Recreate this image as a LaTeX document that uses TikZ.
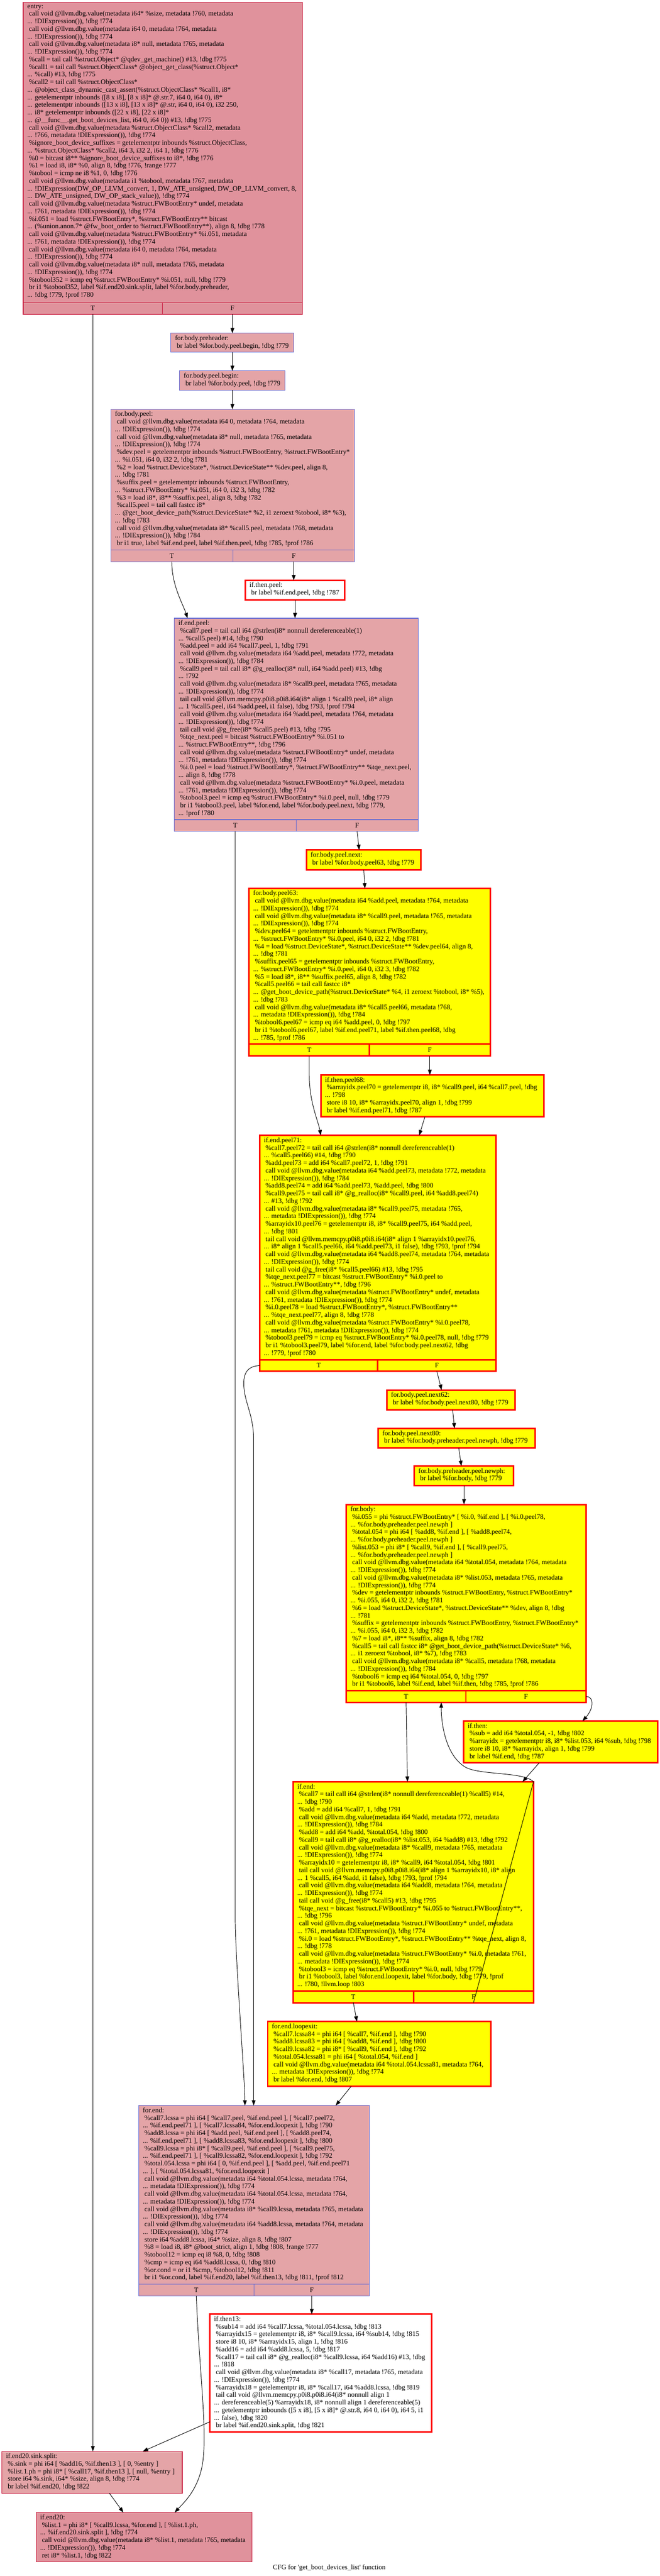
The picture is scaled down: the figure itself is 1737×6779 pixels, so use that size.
\documentclass[tikz,border=0pt]{standalone}
\usepackage{fontspec}
\setmainfont{Liberation Serif}[Ligatures=TeXOff]
\usetikzlibrary{arrows.meta,calc}
\definecolor{pdark}{RGB}{224,146,156}
\definecolor{plight}{RGB}{228,164,167}
\definecolor{crim}{RGB}{200,24,60}
\definecolor{blu}{RGB}{96,104,212}
\definecolor{yel}{RGB}{255,255,0}
\newcommand\codefont{\fontsize{18.2}{20}\selectfont}
\newcommand\Ls{\hspace*{4.5pt}}
\newcommand\mkblock[6]{\node[#2,minimum width=#5pt,minimum height=#6pt,anchor=north west] (#1) at (#3,#4) {};}
\newcommand\mktext[2]{\node[txt] (#1txt) at ([xshift=11pt,yshift=-5.5pt]#1.north west) {#2};}
\newcommand\mkcells[4]{\node[#2,cell,anchor=south west,minimum width=#3pt] (#1T) at (#1.south west) {T};\node[#2,cell,anchor=south east,minimum width=#4pt] (#1F) at (#1.south east) {F};}
\tikzset{
  base/.style={rectangle,inner sep=0pt,outer sep=0pt},
  pinkdark/.style={base,draw=crim,fill=pdark,line width=1.5pt},
  pinklight/.style={base,draw=blu,fill=plight,line width=1.5pt},
  pinklightc/.style={base,draw=crim,fill=plight,line width=1.5pt},
  hot/.style={base,draw=red,fill=yel,line width=4pt},
  hotw/.style={base,draw=red,fill=white,line width=4pt},
  txt/.style={inner sep=0pt,outer sep=0pt,anchor=north west,align=left,font=\codefont,execute at begin node=\strut},
  cell/.style={font=\codefont,minimum height=31pt},
  conn/.style={draw=black,line width=1.3pt,-{Triangle[length=14pt,width=10pt]}},
}
\begin{document}
\begin{tikzpicture}[x=1pt,y=-1pt]
\useasboundingbox (0,0) rectangle (1737,6779);
% ---------- entry
\mkblock{entry}{pinkdark}{61}{6}{735}{821}
\mktext{entry}{entry:\\
\Ls call void @llvm.dbg.value(metadata i64* \%size, metadata !760, metadata\\
... !DIExpression()), !dbg !774\\
\Ls call void @llvm.dbg.value(metadata i64 0, metadata !764, metadata\\
... !DIExpression()), !dbg !774\\
\Ls call void @llvm.dbg.value(metadata i8* null, metadata !765, metadata\\
... !DIExpression()), !dbg !774\\
\Ls \%call = tail call \%struct.Object* @qdev\_get\_machine() \#13, !dbg !775\\
\Ls \%call1 = tail call \%struct.ObjectClass* @object\_get\_class(\%struct.Object*\\
... \%call) \#13, !dbg !775\\
\Ls \%call2 = tail call \%struct.ObjectClass*\\
... @object\_class\_dynamic\_cast\_assert(\%struct.ObjectClass* \%call1, i8*\\
... getelementptr inbounds ([8 x i8], [8 x i8]* @.str.7, i64 0, i64 0), i8*\\
... getelementptr inbounds ([13 x i8], [13 x i8]* @.str, i64 0, i64 0), i32 250,\\
... i8* getelementptr inbounds ([22 x i8], [22 x i8]*\\
... @\_\_func\_\_.get\_boot\_devices\_list, i64 0, i64 0)) \#13, !dbg !775\\
\Ls call void @llvm.dbg.value(metadata \%struct.ObjectClass* \%call2, metadata\\
... !766, metadata !DIExpression()), !dbg !774\\
\Ls \%ignore\_boot\_device\_suffixes = getelementptr inbounds \%struct.ObjectClass,\\
... \%struct.ObjectClass* \%call2, i64 3, i32 2, i64 1, !dbg !776\\
\Ls \%0 = bitcast i8** \%ignore\_boot\_device\_suffixes to i8*, !dbg !776\\
\Ls \%1 = load i8, i8* \%0, align 8, !dbg !776, !range !777\\
\Ls \%tobool = icmp ne i8 \%1, 0, !dbg !776\\
\Ls call void @llvm.dbg.value(metadata i1 \%tobool, metadata !767, metadata\\
... !DIExpression(DW\_OP\_LLVM\_convert, 1, DW\_ATE\_unsigned, DW\_OP\_LLVM\_convert, 8,\\
... DW\_ATE\_unsigned, DW\_OP\_stack\_value)), !dbg !774\\
\Ls call void @llvm.dbg.value(metadata \%struct.FWBootEntry* undef, metadata\\
... !761, metadata !DIExpression()), !dbg !774\\
\Ls \%i.051 = load \%struct.FWBootEntry*, \%struct.FWBootEntry** bitcast\\
... (\%union.anon.7* @fw\_boot\_order to \%struct.FWBootEntry**), align 8, !dbg !778\\
\Ls call void @llvm.dbg.value(metadata \%struct.FWBootEntry* \%i.051, metadata\\
... !761, metadata !DIExpression()), !dbg !774\\
\Ls call void @llvm.dbg.value(metadata i64 0, metadata !764, metadata\\
... !DIExpression()), !dbg !774\\
\Ls call void @llvm.dbg.value(metadata i8* null, metadata !765, metadata\\
... !DIExpression()), !dbg !774\\
\Ls \%tobool352 = icmp eq \%struct.FWBootEntry* \%i.051, null, !dbg !779\\
\Ls br i1 \%tobool352, label \%if.end20.sink.split, label \%for.body.preheader,\\
... !dbg !779, !prof !780}
\mkcells{entry}{pinkdark}{367}{368}
% ---------- preheader chain
\mkblock{preheader}{pinklight}{450}{877}{324}{50}
\mktext{preheader}{for.body.preheader:\\
\Ls br label \%for.body.peel.begin, !dbg !779}
\mkblock{peelbegin}{pinklight}{473}{976}{278}{51}
\mktext{peelbegin}{for.body.peel.begin:\\
\Ls br label \%for.body.peel, !dbg !779}
% ---------- for.body.peel
\mkblock{bodypeel}{pinklight}{292}{1077}{642}{401}
\mktext{bodypeel}{for.body.peel:\\
\Ls call void @llvm.dbg.value(metadata i64 0, metadata !764, metadata\\
... !DIExpression()), !dbg !774\\
\Ls call void @llvm.dbg.value(metadata i8* null, metadata !765, metadata\\
... !DIExpression()), !dbg !774\\
\Ls \%dev.peel = getelementptr inbounds \%struct.FWBootEntry, \%struct.FWBootEntry*\\
... \%i.051, i64 0, i32 2, !dbg !781\\
\Ls \%2 = load \%struct.DeviceState*, \%struct.DeviceState** \%dev.peel, align 8,\\
... !dbg !781\\
\Ls \%suffix.peel = getelementptr inbounds \%struct.FWBootEntry,\\
... \%struct.FWBootEntry* \%i.051, i64 0, i32 3, !dbg !782\\
\Ls \%3 = load i8*, i8** \%suffix.peel, align 8, !dbg !782\\
\Ls \%call5.peel = tail call fastcc i8*\\
... @get\_boot\_device\_path(\%struct.DeviceState* \%2, i1 zeroext \%tobool, i8* \%3),\\
... !dbg !783\\
\Ls call void @llvm.dbg.value(metadata i8* \%call5.peel, metadata !768, metadata\\
... !DIExpression()), !dbg !784\\
\Ls br i1 true, label \%if.end.peel, label \%if.then.peel, !dbg !785, !prof !786}
\mkcells{bodypeel}{pinklight}{321}{321}
% ---------- if.then.peel
\mkblock{thenpeel}{hotw}{646}{1527}{262}{52}
\mktext{thenpeel}{if.then.peel:\\
\Ls br label \%if.end.peel, !dbg !787}
% ---------- if.end.peel
\mkblock{endpeel}{pinklight}{459}{1627}{642}{561}
\mktext{endpeel}{if.end.peel:\\
\Ls \%call7.peel = tail call i64 @strlen(i8* nonnull dereferenceable(1)\\
... \%call5.peel) \#14, !dbg !790\\
\Ls \%add.peel = add i64 \%call7.peel, 1, !dbg !791\\
\Ls call void @llvm.dbg.value(metadata i64 \%add.peel, metadata !772, metadata\\
... !DIExpression()), !dbg !784\\
\Ls \%call9.peel = tail call i8* @g\_realloc(i8* null, i64 \%add.peel) \#13, !dbg\\
... !792\\
\Ls call void @llvm.dbg.value(metadata i8* \%call9.peel, metadata !765, metadata\\
... !DIExpression()), !dbg !774\\
\Ls tail call void @llvm.memcpy.p0i8.p0i8.i64(i8* align 1 \%call9.peel, i8* align\\
... 1 \%call5.peel, i64 \%add.peel, i1 false), !dbg !793, !prof !794\\
\Ls call void @llvm.dbg.value(metadata i64 \%add.peel, metadata !764, metadata\\
... !DIExpression()), !dbg !774\\
\Ls tail call void @g\_free(i8* \%call5.peel) \#13, !dbg !795\\
\Ls \%tqe\_next.peel = bitcast \%struct.FWBootEntry* \%i.051 to\\
... \%struct.FWBootEntry**, !dbg !796\\
\Ls call void @llvm.dbg.value(metadata \%struct.FWBootEntry* undef, metadata\\
... !761, metadata !DIExpression()), !dbg !774\\
\Ls \%i.0.peel = load \%struct.FWBootEntry*, \%struct.FWBootEntry** \%tqe\_next.peel,\\
... align 8, !dbg !778\\
\Ls call void @llvm.dbg.value(metadata \%struct.FWBootEntry* \%i.0.peel, metadata\\
... !761, metadata !DIExpression()), !dbg !774\\
\Ls \%tobool3.peel = icmp eq \%struct.FWBootEntry* \%i.0.peel, null, !dbg !779\\
\Ls br i1 \%tobool3.peel, label \%for.end, label \%for.body.peel.next, !dbg !779,\\
... !prof !780}
\mkcells{endpeel}{pinklight}{321}{321}
% ---------- for.body.peel.next
\mkblock{peelnext}{hot}{807}{2237}{301}{52}
\mktext{peelnext}{for.body.peel.next:\\
\Ls br label \%for.body.peel63, !dbg !779}
% ---------- for.body.peel63
\mkblock{peel63}{hot}{656}{2338}{635}{441}
\mktext{peel63}{for.body.peel63:\\
\Ls call void @llvm.dbg.value(metadata i64 \%add.peel, metadata !764, metadata\\
... !DIExpression()), !dbg !774\\
\Ls call void @llvm.dbg.value(metadata i8* \%call9.peel, metadata !765, metadata\\
... !DIExpression()), !dbg !774\\
\Ls \%dev.peel64 = getelementptr inbounds \%struct.FWBootEntry,\\
... \%struct.FWBootEntry* \%i.0.peel, i64 0, i32 2, !dbg !781\\
\Ls \%4 = load \%struct.DeviceState*, \%struct.DeviceState** \%dev.peel64, align 8,\\
... !dbg !781\\
\Ls \%suffix.peel65 = getelementptr inbounds \%struct.FWBootEntry,\\
... \%struct.FWBootEntry* \%i.0.peel, i64 0, i32 3, !dbg !782\\
\Ls \%5 = load i8*, i8** \%suffix.peel65, align 8, !dbg !782\\
\Ls \%call5.peel66 = tail call fastcc i8*\\
... @get\_boot\_device\_path(\%struct.DeviceState* \%4, i1 zeroext \%tobool, i8* \%5),\\
... !dbg !783\\
\Ls call void @llvm.dbg.value(metadata i8* \%call5.peel66, metadata !768,\\
... metadata !DIExpression()), !dbg !784\\
\Ls \%tobool6.peel67 = icmp eq i64 \%add.peel, 0, !dbg !797\\
\Ls br i1 \%tobool6.peel67, label \%if.end.peel71, label \%if.then.peel68, !dbg\\
... !785, !prof !786}
\mkcells{peel63}{hot}{317}{318}
% ---------- if.then.peel68
\mkblock{thenpeel68}{hot}{845}{2829}{588}{110}
\mktext{thenpeel68}{if.then.peel68:\\
\Ls \%arrayidx.peel70 = getelementptr i8, i8* \%call9.peel, i64 \%call7.peel, !dbg\\
... !798\\
\Ls store i8 10, i8* \%arrayidx.peel70, align 1, !dbg !799\\
\Ls br label \%if.end.peel71, !dbg !787}
% ---------- if.end.peel71
\mkblock{endpeel71}{hot}{684}{2988}{622}{621}
\mktext{endpeel71}{if.end.peel71:\\
\Ls \%call7.peel72 = tail call i64 @strlen(i8* nonnull dereferenceable(1)\\
... \%call5.peel66) \#14, !dbg !790\\
\Ls \%add.peel73 = add i64 \%call7.peel72, 1, !dbg !791\\
\Ls call void @llvm.dbg.value(metadata i64 \%add.peel73, metadata !772, metadata\\
... !DIExpression()), !dbg !784\\
\Ls \%add8.peel74 = add i64 \%add.peel73, \%add.peel, !dbg !800\\
\Ls \%call9.peel75 = tail call i8* @g\_realloc(i8* \%call9.peel, i64 \%add8.peel74)\\
... \#13, !dbg !792\\
\Ls call void @llvm.dbg.value(metadata i8* \%call9.peel75, metadata !765,\\
... metadata !DIExpression()), !dbg !774\\
\Ls \%arrayidx10.peel76 = getelementptr i8, i8* \%call9.peel75, i64 \%add.peel,\\
... !dbg !801\\
\Ls tail call void @llvm.memcpy.p0i8.p0i8.i64(i8* align 1 \%arrayidx10.peel76,\\
... i8* align 1 \%call5.peel66, i64 \%add.peel73, i1 false), !dbg !793, !prof !794\\
\Ls call void @llvm.dbg.value(metadata i64 \%add8.peel74, metadata !764, metadata\\
... !DIExpression()), !dbg !774\\
\Ls tail call void @g\_free(i8* \%call5.peel66) \#13, !dbg !795\\
\Ls \%tqe\_next.peel77 = bitcast \%struct.FWBootEntry* \%i.0.peel to\\
... \%struct.FWBootEntry**, !dbg !796\\
\Ls call void @llvm.dbg.value(metadata \%struct.FWBootEntry* undef, metadata\\
... !761, metadata !DIExpression()), !dbg !774\\
\Ls \%i.0.peel78 = load \%struct.FWBootEntry*, \%struct.FWBootEntry**\\
... \%tqe\_next.peel77, align 8, !dbg !778\\
\Ls call void @llvm.dbg.value(metadata \%struct.FWBootEntry* \%i.0.peel78,\\
... metadata !761, metadata !DIExpression()), !dbg !774\\
\Ls \%tobool3.peel79 = icmp eq \%struct.FWBootEntry* \%i.0.peel78, null, !dbg !779\\
\Ls br i1 \%tobool3.peel79, label \%for.end, label \%for.body.peel.next62, !dbg\\
... !779, !prof !780}
\mkcells{endpeel71}{hot}{311}{311}
% ---------- next62 / next80 / newph
\mkblock{next62}{hot}{1019}{3658}{337}{52}
\mktext{next62}{for.body.peel.next62:\\
\Ls br label \%for.body.peel.next80, !dbg !779}
\mkblock{next80}{hot}{996}{3759}{413}{51}
\mktext{next80}{for.body.peel.next80:\\
\Ls br label \%for.body.preheader.peel.newph, !dbg !779}
\mkblock{newph}{hot}{1091}{3858}{261}{52}
\mktext{newph}{for.body.preheader.peel.newph:\\
\Ls br label \%for.body, !dbg !779}
% ---------- for.body
\mkblock{body}{hot}{912}{3959}{631}{521}
\mktext{body}{for.body:\\
\Ls \%i.055 = phi \%struct.FWBootEntry* [ \%i.0, \%if.end ], [ \%i.0.peel78,\\
... \%for.body.preheader.peel.newph ]\\
\Ls \%total.054 = phi i64 [ \%add8, \%if.end ], [ \%add8.peel74,\\
... \%for.body.preheader.peel.newph ]\\
\Ls \%list.053 = phi i8* [ \%call9, \%if.end ], [ \%call9.peel75,\\
... \%for.body.preheader.peel.newph ]\\
\Ls call void @llvm.dbg.value(metadata i64 \%total.054, metadata !764, metadata\\
... !DIExpression()), !dbg !774\\
\Ls call void @llvm.dbg.value(metadata i8* \%list.053, metadata !765, metadata\\
... !DIExpression()), !dbg !774\\
\Ls \%dev = getelementptr inbounds \%struct.FWBootEntry, \%struct.FWBootEntry*\\
... \%i.055, i64 0, i32 2, !dbg !781\\
\Ls \%6 = load \%struct.DeviceState*, \%struct.DeviceState** \%dev, align 8, !dbg\\
... !781\\
\Ls \%suffix = getelementptr inbounds \%struct.FWBootEntry, \%struct.FWBootEntry*\\
... \%i.055, i64 0, i32 3, !dbg !782\\
\Ls \%7 = load i8*, i8** \%suffix, align 8, !dbg !782\\
\Ls \%call5 = tail call fastcc i8* @get\_boot\_device\_path(\%struct.DeviceState* \%6,\\
... i1 zeroext \%tobool, i8* \%7), !dbg !783\\
\Ls call void @llvm.dbg.value(metadata i8* \%call5, metadata !768, metadata\\
... !DIExpression()), !dbg !784\\
\Ls \%tobool6 = icmp eq i64 \%total.054, 0, !dbg !797\\
\Ls br i1 \%tobool6, label \%if.end, label \%if.then, !dbg !785, !prof !786}
\mkcells{body}{hot}{315}{316}
% ---------- if.then
\mkblock{ifthen}{hot}{1221}{4529}{511}{110}
\mktext{ifthen}{if.then:\\
\Ls \%sub = add i64 \%total.054, -1, !dbg !802\\
\Ls \%arrayidx = getelementptr i8, i8* \%list.053, i64 \%sub, !dbg !798\\
\Ls store i8 10, i8* \%arrayidx, align 1, !dbg !799\\
\Ls br label \%if.end, !dbg !787}
% ---------- if.end
\mkblock{ifend}{hot}{772}{4689}{633}{581}
\mktext{ifend}{if.end:\\
\Ls \%call7 = tail call i64 @strlen(i8* nonnull dereferenceable(1) \%call5) \#14,\\
... !dbg !790\\
\Ls \%add = add i64 \%call7, 1, !dbg !791\\
\Ls call void @llvm.dbg.value(metadata i64 \%add, metadata !772, metadata\\
... !DIExpression()), !dbg !784\\
\Ls \%add8 = add i64 \%add, \%total.054, !dbg !800\\
\Ls \%call9 = tail call i8* @g\_realloc(i8* \%list.053, i64 \%add8) \#13, !dbg !792\\
\Ls call void @llvm.dbg.value(metadata i8* \%call9, metadata !765, metadata\\
... !DIExpression()), !dbg !774\\
\Ls \%arrayidx10 = getelementptr i8, i8* \%call9, i64 \%total.054, !dbg !801\\
\Ls tail call void @llvm.memcpy.p0i8.p0i8.i64(i8* align 1 \%arrayidx10, i8* align\\
... 1 \%call5, i64 \%add, i1 false), !dbg !793, !prof !794\\
\Ls call void @llvm.dbg.value(metadata i64 \%add8, metadata !764, metadata\\
... !DIExpression()), !dbg !774\\
\Ls tail call void @g\_free(i8* \%call5) \#13, !dbg !795\\
\Ls \%tqe\_next = bitcast \%struct.FWBootEntry* \%i.055 to \%struct.FWBootEntry**,\\
... !dbg !796\\
\Ls call void @llvm.dbg.value(metadata \%struct.FWBootEntry* undef, metadata\\
... !761, metadata !DIExpression()), !dbg !774\\
\Ls \%i.0 = load \%struct.FWBootEntry*, \%struct.FWBootEntry** \%tqe\_next, align 8,\\
... !dbg !778\\
\Ls call void @llvm.dbg.value(metadata \%struct.FWBootEntry* \%i.0, metadata !761,\\
... metadata !DIExpression()), !dbg !774\\
\Ls \%tobool3 = icmp eq \%struct.FWBootEntry* \%i.0, null, !dbg !779\\
\Ls br i1 \%tobool3, label \%for.end.loopexit, label \%for.body, !dbg !779, !prof\\
... !780, !llvm.loop !803}
\mkcells{ifend}{hot}{317}{316}
% ---------- for.end.loopexit
\mkblock{loopexit}{hot}{705}{5320}{588}{170}
\mktext{loopexit}{for.end.loopexit:\\
\Ls \%call7.lcssa84 = phi i64 [ \%call7, \%if.end ], !dbg !790\\
\Ls \%add8.lcssa83 = phi i64 [ \%add8, \%if.end ], !dbg !800\\
\Ls \%call9.lcssa82 = phi i8* [ \%call9, \%if.end ], !dbg !792\\
\Ls \%total.054.lcssa81 = phi i64 [ \%total.054, \%if.end ]\\
\Ls call void @llvm.dbg.value(metadata i64 \%total.054.lcssa81, metadata !764,\\
... metadata !DIExpression()), !dbg !774\\
\Ls br label \%for.end, !dbg !807}
% ---------- for.end
\mkblock{forend}{pinklight}{365}{5541}{608}{501}
\mktext{forend}{for.end:\\
\Ls \%call7.lcssa = phi i64 [ \%call7.peel, \%if.end.peel ], [ \%call7.peel72,\\
... \%if.end.peel71 ], [ \%call7.lcssa84, \%for.end.loopexit ], !dbg !790\\
\Ls \%add8.lcssa = phi i64 [ \%add.peel, \%if.end.peel ], [ \%add8.peel74,\\
... \%if.end.peel71 ], [ \%add8.lcssa83, \%for.end.loopexit ], !dbg !800\\
\Ls \%call9.lcssa = phi i8* [ \%call9.peel, \%if.end.peel ], [ \%call9.peel75,\\
... \%if.end.peel71 ], [ \%call9.lcssa82, \%for.end.loopexit ], !dbg !792\\
\Ls \%total.054.lcssa = phi i64 [ 0, \%if.end.peel ], [ \%add.peel, \%if.end.peel71\\
... ], [ \%total.054.lcssa81, \%for.end.loopexit ]\\
\Ls call void @llvm.dbg.value(metadata i64 \%total.054.lcssa, metadata !764,\\
... metadata !DIExpression()), !dbg !774\\
\Ls call void @llvm.dbg.value(metadata i64 \%total.054.lcssa, metadata !764,\\
... metadata !DIExpression()), !dbg !774\\
\Ls call void @llvm.dbg.value(metadata i8* \%call9.lcssa, metadata !765, metadata\\
... !DIExpression()), !dbg !774\\
\Ls call void @llvm.dbg.value(metadata i64 \%add8.lcssa, metadata !764, metadata\\
... !DIExpression()), !dbg !774\\
\Ls store i64 \%add8.lcssa, i64* \%size, align 8, !dbg !807\\
\Ls \%8 = load i8, i8* @boot\_strict, align 1, !dbg !808, !range !777\\
\Ls \%tobool12 = icmp eq i8 \%8, 0, !dbg !808\\
\Ls \%cmp = icmp eq i64 \%add8.lcssa, 0, !dbg !810\\
\Ls \%or.cond = or i1 \%cmp, \%tobool12, !dbg !811\\
\Ls br i1 \%or.cond, label \%if.end20, label \%if.then13, !dbg !811, !prof !812}
\mkcells{forend}{pinklight}{304}{304}
% ---------- if.then13
\mkblock{then13}{hotw}{553}{6090}{584}{310}
\mktext{then13}{if.then13:\\
\Ls \%sub14 = add i64 \%call7.lcssa, \%total.054.lcssa, !dbg !813\\
\Ls \%arrayidx15 = getelementptr i8, i8* \%call9.lcssa, i64 \%sub14, !dbg !815\\
\Ls store i8 10, i8* \%arrayidx15, align 1, !dbg !816\\
\Ls \%add16 = add i64 \%add8.lcssa, 5, !dbg !817\\
\Ls \%call17 = tail call i8* @g\_realloc(i8* \%call9.lcssa, i64 \%add16) \#13, !dbg\\
... !818\\
\Ls call void @llvm.dbg.value(metadata i8* \%call17, metadata !765, metadata\\
... !DIExpression()), !dbg !774\\
\Ls \%arrayidx18 = getelementptr i8, i8* \%call17, i64 \%add8.lcssa, !dbg !819\\
\Ls tail call void @llvm.memcpy.p0i8.p0i8.i64(i8* nonnull align 1\\
... dereferenceable(5) \%arrayidx18, i8* nonnull align 1 dereferenceable(5)\\
... getelementptr inbounds ([5 x i8], [5 x i8]* @.str.8, i64 0, i64 0), i64 5, i1\\
... false), !dbg !820\\
\Ls br label \%if.end20.sink.split, !dbg !821}
% ---------- if.end20.sink.split
\mkblock{sinksplit}{pinklightc}{5}{6451}{475}{110}
\mktext{sinksplit}{if.end20.sink.split:\\
\Ls \%.sink = phi i64 [ \%add16, \%if.then13 ], [ 0, \%entry ]\\
\Ls \%list.1.ph = phi i8* [ \%call17, \%if.then13 ], [ null, \%entry ]\\
\Ls store i64 \%.sink, i64* \%size, align 8, !dbg !774\\
\Ls br label \%if.end20, !dbg !822}
% ---------- if.end20
\mkblock{end20}{pinkdark}{95}{6612}{569}{130}
\mktext{end20}{if.end20:\\
\Ls \%list.1 = phi i8* [ \%call9.lcssa, \%for.end ], [ \%list.1.ph,\\
... \%if.end20.sink.split ], !dbg !774\\
\Ls call void @llvm.dbg.value(metadata i8* \%list.1, metadata !765, metadata\\
... !DIExpression()), !dbg !774\\
\Ls ret i8* \%list.1, !dbg !822}
% ---------- caption
\node[font=\codefont] (caption) at (867,6758) {CFG for 'get\_boot\_devices\_list' function};
% ---------- connectors
\draw[conn] (entryT.south) -- (entryT.south |- sinksplit.north);
\draw[conn] (entryF.south) -- (entryF.south |- preheader.north);
\draw[conn] (preheader.south) -- (preheader.south |- peelbegin.north);
\draw[conn] (peelbegin.south) -- (peelbegin.south |- bodypeel.north);
\draw[conn] (bodypeelT.south) .. controls (452,1540) and (482,1590) .. ($(endpeel.north west)+(35,0)$);
\draw[conn] (bodypeelF.south) -- (bodypeelF.south |- thenpeel.north);
\draw[conn] (thenpeel.south) -- (thenpeel.south |- endpeel.north);
\draw[conn] (endpeelT.south) -- (619.5,5050) .. controls (619.5,5150) and (645,5480) .. ($(forend.north west)+(280,0)$);
\draw[conn] (endpeelF.south) -- ($(peelnext.north west)+(139,0)$);
\draw[conn] ($(peelnext.south west)+(151,0)$) -- ($(peel63.north west)+(305,0)$);
\draw[conn] (peel63T.south) -- (814.5,2830) .. controls (814.5,2900) and (838,2950) .. ($(endpeel71.north west)+(161,0)$);
\draw[conn] (peel63F.south) -- (peel63F.south |- thenpeel68.north);
\draw[conn] ($(thenpeel68.south west)+(274,0)$) -- ($(endpeel71.north west)+(420,0)$);
\draw[conn] (endpeel71T.west) .. controls (655,3595) and (642,3610) .. (642,3640) .. controls (642,3690) and (668,3720) .. (668,3790) -- ($(forend.north west)+(303,0)$);
\draw[conn] (endpeel71F.south) -- ($(next62.north west)+(144,0)$);
\draw[conn] ($(next62.south west)+(173,0)$) -- ($(next80.north west)+(201,0)$);
\draw[conn] ($(next80.south west)+(212,0)$) -- ($(newph.north west)+(124,0)$);
\draw[conn] ($(newph.south west)+(131,0)$) -- ($(body.north west)+(310,0)$);
\draw[conn] (bodyT.south) -- ($(ifend.north west)+(301,0)$);
\draw[conn] (bodyF.east) .. controls (1566,4464) and (1563,4497) .. ($(ifthen.north west)+(313,0)$);
\draw[conn] ($(ifthen.south west)+(199,0)$) -- ($(ifend.north west)+(604,0)$);
\draw[conn] (ifendF.south) -- (ifend.north east) .. controls (1380,4662) and (1262,4672) .. (1225,4650) .. controls (1175,4620) and (1162,4540) .. ($(body.south west)+(250,0)$);
\draw[conn] (ifendT.south) -- ($(loopexit.north west)+(235,0)$);
\draw[conn] ($(loopexit.south west)+(220,0)$) -- ($(forend.north west)+(519,0)$);
\draw[conn] (forendT.south) .. controls (525,6250) and (550,6420) .. (530,6500) .. controls (515,6560) and (480,6590) .. ($(end20.north west)+(365,0)$);
\draw[conn] (forendF.south) -- (forendF.south |- then13.north);
\draw[conn] ($(then13.south west)+(0,-27)$) -- ($(sinksplit.north west)+(371,0)$);
\draw[conn] ($(sinksplit.south west)+(283,0)$) -- ($(end20.north west)+(230,0)$);
\end{tikzpicture}
\end{document}
